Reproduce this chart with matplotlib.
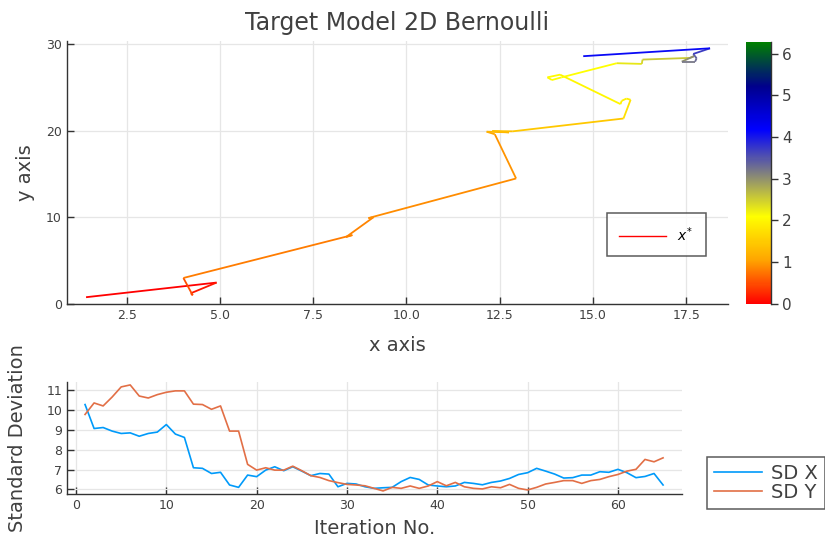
import numpy as np
import matplotlib
matplotlib.use("Agg")
import matplotlib.pyplot as plt
from matplotlib.collections import LineCollection
from matplotlib.colors import LinearSegmentedColormap, Normalize
from matplotlib.lines import Line2D

# --- x* trajectory (x, y, colour value along the path) ---
path_x = [1.41, 4.91, 4.22, 4.27, 4.02, 8.55, 8.38, 9.12, 8.98, 9.10,
          12.94, 12.37, 12.15, 12.75, 12.30, 12.85, 15.82, 16.01, 15.90, 15.77,
          15.74, 14.12, 13.78, 13.90, 14.16, 15.64, 16.31, 16.33, 17.60, 17.71,
          17.38, 17.74, 17.78, 17.69, 18.14, 14.74]
path_y = [0.78, 2.47, 1.24, 1.00, 3.00, 7.95, 7.72, 10.02, 9.90, 10.05,
          14.48, 19.58, 19.88, 19.80, 19.95, 19.92, 21.40, 23.56, 23.70, 23.44,
          23.06, 26.46, 26.15, 25.84, 26.15, 27.78, 27.70, 28.20, 28.39, 28.59,
          27.96, 27.96, 28.35, 28.85, 29.50, 28.59]
path_z = [0.0, 0.15, 0.3, 0.5, 0.8, 0.85, 0.85, 0.9, 0.9, 0.9,
          0.95, 1.1, 1.25, 1.3, 1.35, 1.45, 1.75, 1.9, 1.95, 1.95,
          2.0, 2.05, 2.05, 2.1, 2.1, 2.3, 2.45, 2.55, 2.8, 3.0,
          3.2, 3.3, 3.4, 3.7, 4.1, 4.2]

# --- standard deviation per iteration ---
iterations = list(range(1, 66))
sd_x = [10.28, 9.07, 9.12, 8.94, 8.82, 8.85, 8.68, 8.82, 8.89, 9.27,
        8.79, 8.62, 7.09, 7.06, 6.80, 6.86, 6.22, 6.10, 6.72, 6.64,
        6.97, 7.14, 6.94, 7.14, 6.92, 6.69, 6.80, 6.77, 6.13, 6.30,
        6.27, 6.13, 6.05, 6.08, 6.10, 6.39, 6.60, 6.50, 6.22, 6.17,
        6.13, 6.17, 6.35, 6.30, 6.23, 6.35, 6.42, 6.55, 6.75, 6.84,
        7.06, 6.92, 6.77, 6.57, 6.59, 6.72, 6.72, 6.89, 6.86, 7.01,
        6.84, 6.59, 6.65, 6.80, 6.22]
sd_y = [9.78, 10.36, 10.21, 10.66, 11.17, 11.27, 10.71, 10.61, 10.78, 10.90,
        10.97, 10.97, 10.30, 10.28, 10.04, 10.21, 8.94, 8.94, 7.26, 6.97,
        7.09, 6.97, 6.97, 7.17, 6.94, 6.69, 6.60, 6.44, 6.34, 6.25,
        6.22, 6.18, 6.05, 5.92, 6.10, 6.05, 6.17, 6.05, 6.17, 6.39,
        6.18, 6.35, 6.13, 6.05, 6.02, 6.13, 6.08, 6.25, 6.05, 5.97,
        6.10, 6.27, 6.35, 6.44, 6.44, 6.30, 6.44, 6.50, 6.64, 6.75,
        6.92, 7.01, 7.51, 7.39, 7.59]

TXT = "#404040"
GRID = "#e6e6e6"
SPINE = "#333333"

cmap = LinearSegmentedColormap.from_list(
    "path", ["red", "orange", "yellow", "gray", "blue", "darkblue", "green"])
norm = Normalize(0.0, 2 * np.pi)


def style_axes(ax):
    for side in ("top", "right"):
        ax.spines[side].set_visible(False)
    for side in ("left", "bottom"):
        ax.spines[side].set_color(SPINE)
        ax.spines[side].set_linewidth(1.0)
    ax.tick_params(direction="in", length=5, width=1.0, color=SPINE,
                   labelcolor=TXT, labelsize=9)
    ax.grid(True, color=GRID, lw=0.9)
    ax.set_axisbelow(True)


fig = plt.figure(figsize=(8.25, 5.48), dpi=100)

# ---- top: trajectory coloured along its length ----
ax = fig.add_axes([0.0808, 0.4453, 0.802, 0.4800])
pts = np.column_stack([path_x, path_y])
segs = np.stack([pts[:-1], pts[1:]], axis=1)
lc = LineCollection(segs, cmap=cmap, norm=norm, lw=1.3)
lc.set_array(np.asarray(path_z[:-1]))
ax.add_collection(lc)
ax.set_xlim(0.89, 18.63)
ax.set_ylim(0.0, 30.35)
ax.set_xticks([2.5, 5.0, 7.5, 10.0, 12.5, 15.0, 17.5])
ax.set_yticks([0, 10, 20, 30])
style_axes(ax)
ax.set_xlabel("x axis", fontsize=14, color=TXT, labelpad=10)
ax.set_ylabel("y axis", fontsize=14, color=TXT, labelpad=8)
ax.set_title("Target Model 2D Bernoulli", fontsize=17, color=TXT, pad=8)
leg = ax.legend([Line2D([], [], color="red", lw=1.0)], [r"$x^{*}$"],
                loc="upper left", bbox_to_anchor=(0.816, 0.347),
                borderaxespad=0.0, fontsize=10, frameon=True, fancybox=False,
                handlelength=3.4, borderpad=0.9, labelspacing=0.3)
leg.get_frame().set_edgecolor(SPINE)
leg.get_frame().set_linewidth(1.1)

cax = fig.add_axes([0.904, 0.4453, 0.0303, 0.4786])
cb = fig.colorbar(plt.cm.ScalarMappable(norm=norm, cmap=cmap), cax=cax)
cb.outline.set_visible(False)
fig.add_artist(Line2D([0.9343, 0.9343], [0.4453, 0.9239],
                      transform=fig.transFigure, color=SPINE, lw=1.0))
cb.set_ticks([0, 1, 2, 3, 4, 5, 6])
cax.tick_params(direction="out", length=5, width=1.0, color=SPINE,
                labelcolor=TXT, labelsize=11, pad=3)

# ---- bottom: standard deviation per iteration ----
ax2 = fig.add_axes([0.0812, 0.0980, 0.7455, 0.2050])
ax2.plot(iterations, sd_x, color="#009AFA", lw=1.2, label="SD X")
ax2.plot(iterations, sd_y, color="#E26F46", lw=1.2, label="SD Y")
ax2.set_xlim(-1.0, 67.1)
ax2.set_ylim(5.75, 11.42)
ax2.set_xticks([0, 10, 20, 30, 40, 50, 60])
ax2.set_yticks([6, 7, 8, 9, 10, 11])
style_axes(ax2)
ax2.set_xlabel("Iteration No.", fontsize=14, color=TXT, labelpad=5)
ax2.set_ylabel("Standard Deviation", fontsize=14, color=TXT, labelpad=14)
leg2 = ax2.legend(loc="upper left", bbox_to_anchor=(707 / 825, 1 - 457 / 548),
                  bbox_transform=fig.transFigure, borderaxespad=0.0,
                  fontsize=14, frameon=True, fancybox=False,
                  handlelength=2.5, handletextpad=0.45, borderpad=0.35,
                  labelspacing=0.0, labelcolor=TXT)
leg2.get_frame().set_edgecolor(SPINE)
leg2.get_frame().set_linewidth(1.1)

fig.savefig("out.png", dpi=100)
